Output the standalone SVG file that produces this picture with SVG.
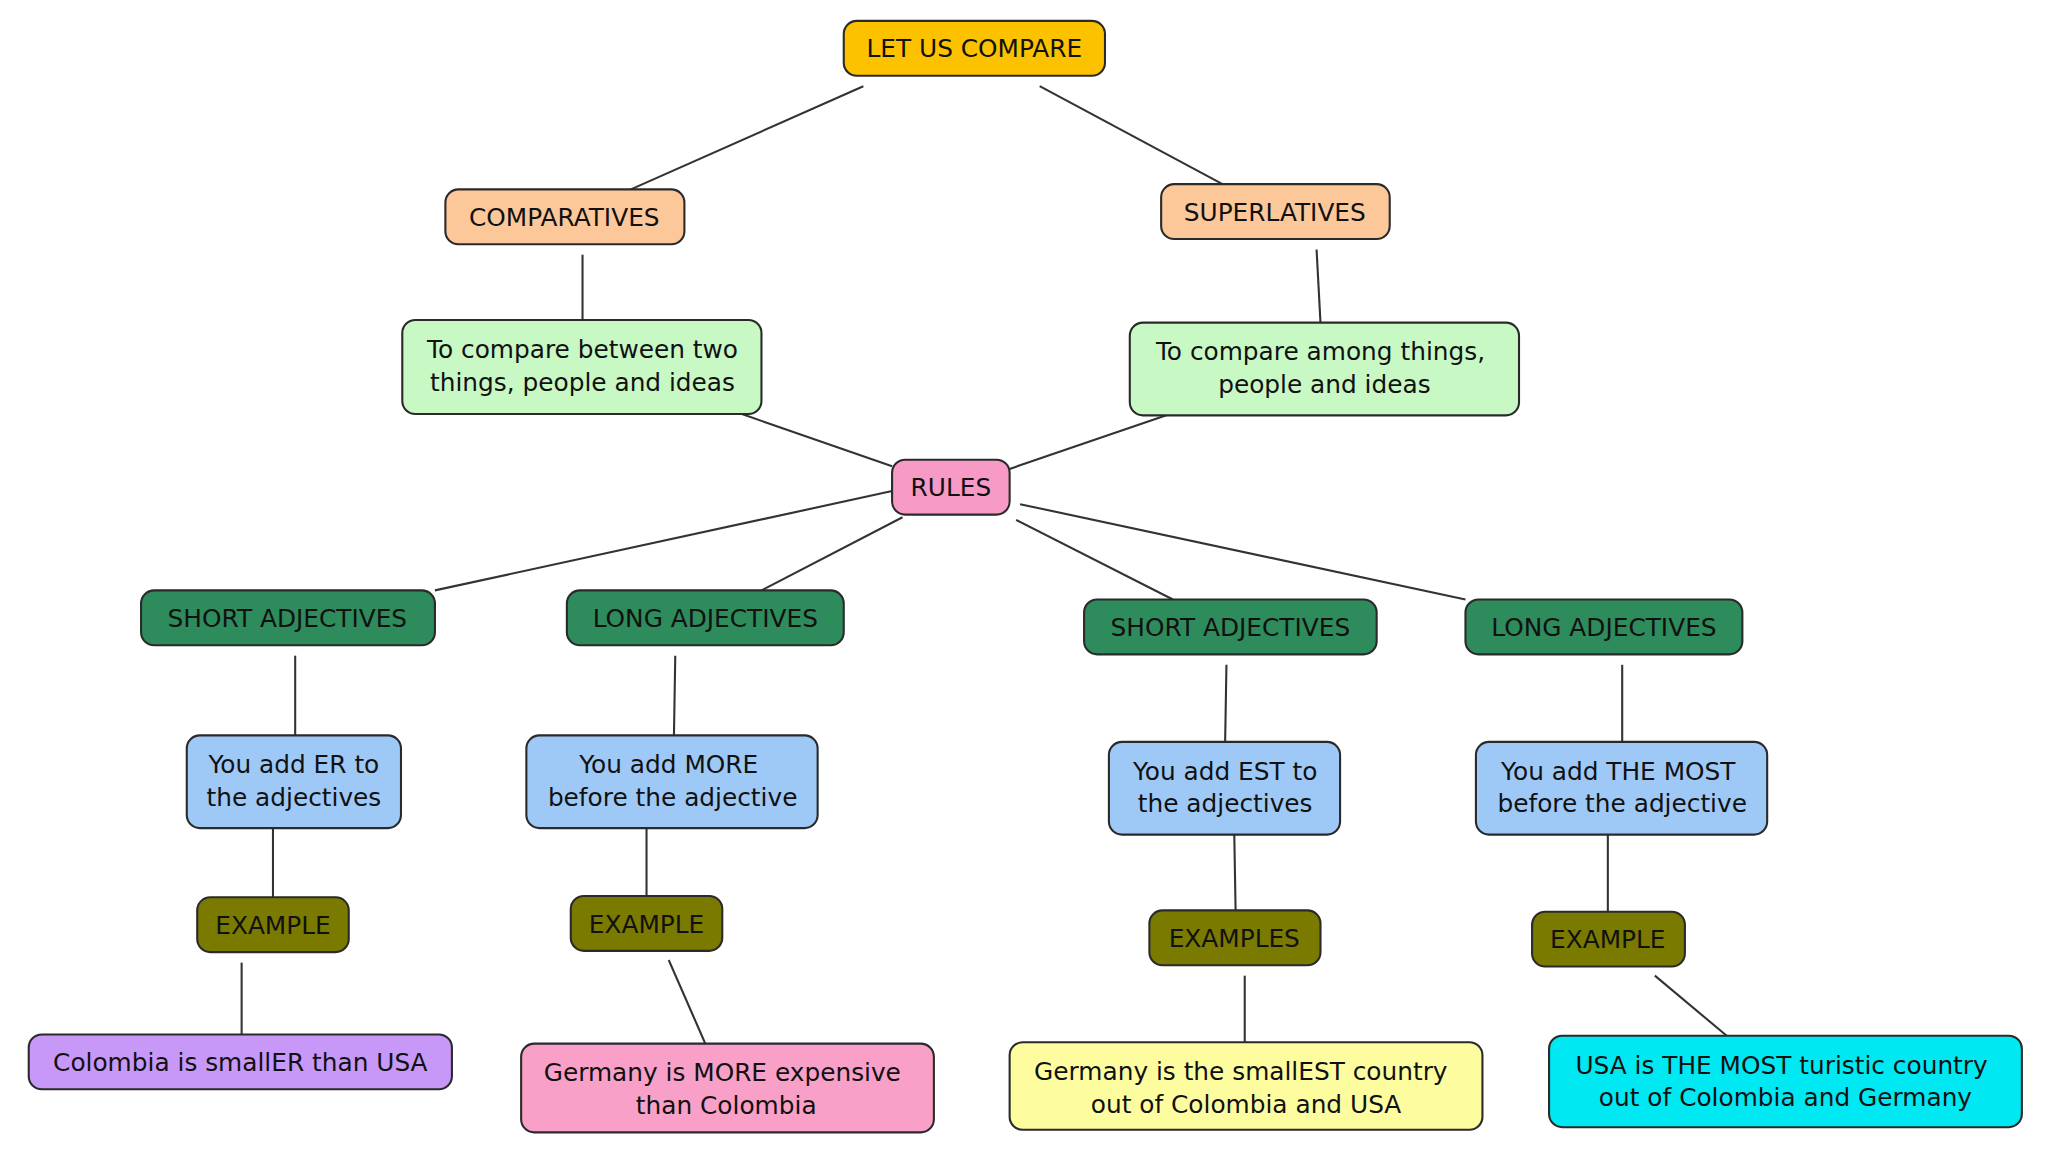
<svg xmlns="http://www.w3.org/2000/svg" width="2048" height="1152" viewBox="0 0 2048 1152">
<style>
rect{stroke:#2a2a2a;stroke-width:1.6}
text{font-family:"DejaVu Sans",Verdana,sans-serif;font-size:19px;fill:#111;text-anchor:middle}
#connectors line{stroke:#333;stroke-width:1.6}
</style>
<rect width="2048" height="1152" fill="#fff" style="stroke:none"/>
<g transform="scale(1.30612)">
<g id="connectors">
<line x1="661" y1="66" x2="483" y2="145"/>
<line x1="796" y1="66" x2="936" y2="141"/>
<line x1="446" y1="195" x2="446" y2="245"/>
<line x1="1008" y1="191" x2="1011" y2="247"/>
<line x1="568" y1="317" x2="683" y2="357"/>
<line x1="893" y1="318" x2="773" y2="359"/>
<line x1="683" y1="376" x2="333" y2="452"/>
<line x1="691" y1="396" x2="583" y2="452"/>
<line x1="778" y1="398" x2="898" y2="459"/>
<line x1="781" y1="386" x2="1122" y2="459"/>
<line x1="226" y1="502" x2="226" y2="563"/>
<line x1="517" y1="502" x2="516" y2="563"/>
<line x1="939" y1="509" x2="938" y2="568"/>
<line x1="1242" y1="509" x2="1242" y2="568"/>
<line x1="209" y1="634" x2="209" y2="687"/>
<line x1="495" y1="634" x2="495" y2="686"/>
<line x1="945" y1="639" x2="946" y2="697"/>
<line x1="1231" y1="639" x2="1231" y2="698"/>
<line x1="185" y1="737" x2="185" y2="792"/>
<line x1="512" y1="735" x2="540" y2="799"/>
<line x1="953" y1="747" x2="953" y2="798"/>
<line x1="1267" y1="747" x2="1322" y2="793"/>
</g>
<g id="n1"><rect x="646" y="16" width="200" height="42" rx="10" fill="#fcc200"/><text x="746" y="44">LET US COMPARE</text></g>
<g id="n2"><rect x="341" y="145" width="183" height="42" rx="10" fill="#fcc89a"/><text x="432" y="173">COMPARATIVES</text></g>
<g id="n3"><rect x="889" y="141" width="175" height="42" rx="10" fill="#fcc89a"/><text x="976" y="169">SUPERLATIVES</text></g>
<g id="n4"><rect x="308" y="245" width="275" height="72" rx="10" fill="#c8f8c4"/><text x="446" y="274">To compare between two</text><text x="446" y="299">things, people and ideas</text></g>
<g id="n5"><rect x="865" y="247" width="298" height="71" rx="10" fill="#c8f8c4"/><text x="1011" y="276">To compare among things,</text><text x="1014" y="301">people and ideas</text></g>
<g id="n6"><rect x="683" y="352" width="90" height="42" rx="10" fill="#f79ac5"/><text x="728" y="380">RULES</text></g>
<g id="n7"><rect x="108" y="452" width="225" height="42" rx="10" fill="#2e8b5c"/><text x="220" y="480">SHORT ADJECTIVES</text></g>
<g id="n8"><rect x="434" y="452" width="212" height="42" rx="10" fill="#2e8b5c"/><text x="540" y="480">LONG ADJECTIVES</text></g>
<g id="n9"><rect x="830" y="459" width="224" height="42" rx="10" fill="#2e8b5c"/><text x="942" y="487">SHORT ADJECTIVES</text></g>
<g id="n10"><rect x="1122" y="459" width="212" height="42" rx="10" fill="#2e8b5c"/><text x="1228" y="487">LONG ADJECTIVES</text></g>
<g id="n11"><rect x="143" y="563" width="164" height="71" rx="10" fill="#9ec9f7"/><text x="225" y="592">You add ER to</text><text x="225" y="617">the adjectives</text></g>
<g id="n12"><rect x="403" y="563" width="223" height="71" rx="10" fill="#9ec9f7"/><text x="512" y="592">You add MORE</text><text x="515" y="617">before the adjective</text></g>
<g id="n13"><rect x="849" y="568" width="177" height="71" rx="10" fill="#9ec9f7"/><text x="938" y="597">You add EST to</text><text x="938" y="622">the adjectives</text></g>
<g id="n14"><rect x="1130" y="568" width="223" height="71" rx="10" fill="#9ec9f7"/><text x="1239" y="597">You add THE MOST</text><text x="1242" y="622">before the adjective</text></g>
<g id="n15"><rect x="151" y="687" width="116" height="42" rx="10" fill="#7a7a00"/><text x="209" y="715">EXAMPLE</text></g>
<g id="n16"><rect x="437" y="686" width="116" height="42" rx="10" fill="#7a7a00"/><text x="495" y="714">EXAMPLE</text></g>
<g id="n17"><rect x="880" y="697" width="131" height="42" rx="10" fill="#7a7a00"/><text x="945" y="725">EXAMPLES</text></g>
<g id="n18"><rect x="1173" y="698" width="117" height="42" rx="10" fill="#7a7a00"/><text x="1231" y="726">EXAMPLE</text></g>
<g id="n19"><rect x="22" y="792" width="324" height="42" rx="10" fill="#c898f8"/><text x="184" y="820">Colombia is smallER than USA</text></g>
<g id="n20"><rect x="399" y="799" width="316" height="68" rx="10" fill="#f8a0c8"/><text x="553" y="828">Germany is MORE expensive</text><text x="556" y="853">than Colombia</text></g>
<g id="n21"><rect x="773" y="798" width="362" height="67" rx="10" fill="#fdfda0"/><text x="950" y="827">Germany is the smallEST country</text><text x="954" y="852">out of Colombia and USA</text></g>
<g id="n22"><rect x="1186" y="793" width="362" height="70" rx="10" fill="#00e8f2"/><text x="1364" y="822">USA is THE MOST turistic country</text><text x="1367" y="847">out of Colombia and Germany</text></g>
</g>
</svg>
